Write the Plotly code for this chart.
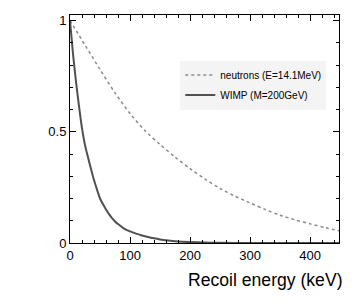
import plotly.graph_objects as go

# Neutron recoil spectrum (E=14.1 MeV), normalised
neutron_E = [0, 25, 50, 75, 100, 125, 150, 175, 200, 225, 250, 275, 300, 325, 350, 375, 400, 425, 450]
neutron_y = [1.0, 0.89, 0.78, 0.675, 0.582, 0.505, 0.443, 0.386, 0.334, 0.287, 0.245, 0.21, 0.18, 0.151, 0.125, 0.104, 0.086, 0.069, 0.054]

# WIMP recoil spectrum (M=200 GeV), normalised
wimp_E = [0, 5, 10, 15, 20, 25, 30, 35, 40, 45, 50, 55, 60, 65, 70, 75, 80, 90, 100, 110, 120, 130, 140,
          150, 160, 175, 200, 225, 250, 300, 450]
wimp_y = [1.0, 0.85, 0.725, 0.615, 0.515, 0.44, 0.385, 0.333, 0.283, 0.24, 0.2, 0.174, 0.151, 0.13, 0.112,
          0.097, 0.085, 0.065, 0.052, 0.042, 0.034, 0.027, 0.021, 0.016, 0.012, 0.008, 0.004, 0.002, 0.001, 0.0, 0.0]

x_tickvals = [0, 100, 200, 300, 400]
y_tickvals = [0, 0.5, 1]
y_ticktext = ["0", "0.5", "1"]

FONT = "Liberation Sans, Arial, sans-serif"

fig = go.Figure()
fig.add_trace(go.Scatter(x=neutron_E, y=neutron_y, mode="lines", name="neutrons (E=14.1MeV)",
                         legendgroup="n",
                         line=dict(color="#8a8a8a", width=1.5, dash="dot", shape="spline", smoothing=0.8)))
fig.add_trace(go.Scatter(x=wimp_E, y=wimp_y, mode="lines", name="WIMP (M=200GeV)",
                         legendgroup="w",
                         line=dict(color="#505050", width=2, shape="spline", smoothing=0.6)))

axis_common = dict(showline=True, linecolor="black", linewidth=1, mirror="ticks",
                   ticks="inside", ticklen=6, tickcolor="black", tickwidth=1,
                   showgrid=False, zeroline=False, automargin=False,
                   tickfont=dict(family=FONT, size=13, color="black"))

# page body has an 8px margin, so the figure is 8px smaller and margins shifted
fig.update_layout(
    width=346, height=297,
    margin=dict(l=62, r=15, t=7, b=62),
    paper_bgcolor="white", plot_bgcolor="white",
    font=dict(family=FONT, color="black"),
    xaxis=dict(range=[0, 448], tickvals=x_tickvals,
               minor=dict(dtick=20, tick0=0, ticks="inside", ticklen=3, tickcolor="black", showgrid=False),
               **axis_common),
    yaxis=dict(range=[0, 1.025], tickvals=y_tickvals, ticktext=y_ticktext,
               minor=dict(dtick=0.1, tick0=0, ticks="inside", ticklen=3, tickcolor="black", showgrid=False),
               **axis_common),
    legend=dict(x=0.41, y=0.80, xanchor="left", yanchor="top",
                bgcolor="#f4f4f4", borderwidth=0,
                font=dict(family=FONT, size=10, color="black"),
                tracegroupgap=1, itemwidth=30),
    showlegend=True,
    annotations=[dict(text="Recoil energy (keV)", xref="paper", yref="paper", x=1, y=0,
                      xanchor="right", yanchor="middle", yshift=-37, xshift=6, showarrow=False,
                      font=dict(family=FONT, size=17.6, color="black"))],
)
fig.write_html("out.html")
